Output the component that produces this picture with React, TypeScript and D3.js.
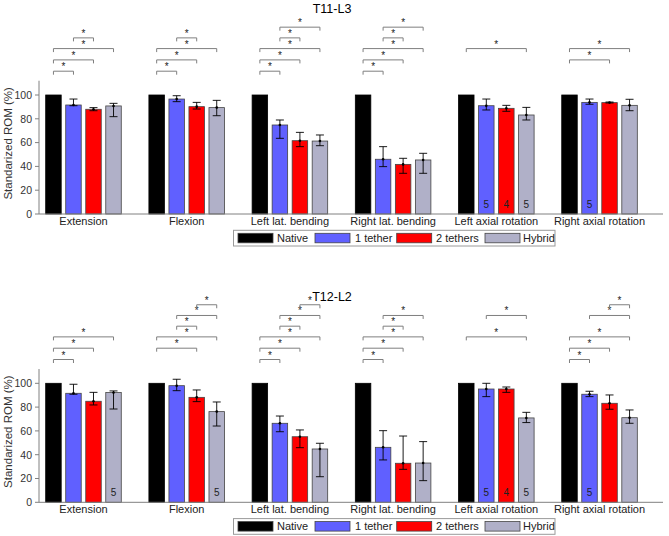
import React from "react";
import * as d3 from "d3";

const categories = ["Extension", "Flexion", "Left lat. bending", "Right lat. bending", "Left axial rotation", "Right axial rotation"];
const seriesNames = ["Native", "1 tether", "2 tethers", "Hybrid"];
const seriesColors = ["#000000", "#6060ff", "#ff0000", "#b0b0c8"];
const yTicks = [0, 20, 40, 60, 80, 100];

// T11-L3
const t11Native = [100, 100, 100, 100, 100, 100];
const t11Tether1 = [91.6, 96.6, 74.8, 46.0, 91.0, 93.8];
const t11Tether1Hi = [96.6, 99.4, 79.0, 56.6, 96.6, 96.6];
const t11Tether1Lo = [91.0, 94.4, 63.6, 39.8, 87.4, 92.2];
const t11Tether2 = [88.0, 90.2, 61.6, 41.7, 88.8, 93.6];
const t11Tether2Hi = [89.4, 93.8, 68.6, 46.8, 91.3, 94.1];
const t11Tether2Lo = [86.8, 88.2, 56.6, 34.2, 86.3, 93.3];
const t11Hybrid = [90.8, 89.4, 61.3, 45.4, 83.2, 91.3];
const t11HybridHi = [93.0, 95.5, 66.4, 51.0, 89.6, 96.4];
const t11HybridLo = [81.8, 82.6, 57.4, 34.2, 79.0, 86.8];
const t11Brackets = [
  ["N1", "N2", "NH", "12"],
  ["N1", "N2", "NH", "12"],
  ["N1", "N2", "NH", "12", "1H"],
  ["N1", "N2", "NH", "12", "1H"],
  ["NH"],
  ["N2", "NH"],
];
const t11Counts = [
  { cat: 4, s: 1, label: "5" },
  { cat: 4, s: 2, label: "4" },
  { cat: 4, s: 3, label: "5" },
  { cat: 5, s: 1, label: "5" },
];

// T12-L2
const t12Native = [100, 100, 100, 100, 100, 100];
const t12Tether1 = [91.6, 98.0, 66.4, 46.2, 95.2, 90.8];
const t12Tether1Hi = [99.2, 103.4, 72.5, 60.2, 100.0, 93.3];
const t12Tether1Lo = [90.8, 93.8, 59.3, 35.6, 88.8, 88.8];
const t12Tether2 = [84.9, 88.2, 55.1, 32.8, 95.2, 83.2];
const t12Tether2Hi = [92.4, 94.4, 60.8, 55.7, 96.9, 90.2];
const t12Tether2Lo = [81.8, 84.6, 45.9, 27.7, 92.4, 78.2];
const t12Hybrid = [92.2, 76.2, 44.8, 33.0, 70.9, 71.1];
const t12HybridHi = [93.6, 84.3, 49.6, 51.0, 75.6, 77.6];
const t12HybridLo = [78.4, 64.1, 21.5, 18.2, 67.0, 66.4];
const t12Brackets = [
  ["N1", "N2", "NH"],
  ["N2", "NH", "12", "1H", "2H"],
  ["N1", "N2", "NH", "12", "1H", "2H"],
  ["N1", "N2", "NH", "12", "1H"],
  ["NH", "1H"],
  ["N1", "N2", "NH", "1H", "2H"],
];
const t12Counts = [
  { cat: 0, s: 3, label: "5" },
  { cat: 1, s: 3, label: "5" },
  { cat: 4, s: 1, label: "5" },
  { cat: 4, s: 2, label: "4" },
  { cat: 4, s: 3, label: "5" },
  { cat: 5, s: 1, label: "5" },
];

const pairLevel: Record<string, number> = { N1: 120, N2: 129.5, NH: 139, "12": 148, "1H": 157, "2H": 166 };
const pairIdx: Record<string, [number, number]> = {
  N1: [0, 1], N2: [0, 2], NH: [0, 3], "12": [1, 2], "1H": [1, 3], "2H": [2, 3],
};

const FONT = "'Liberation Sans', Arial, Helvetica, sans-serif";

type PanelProps = {
  title: string;
  zeroY: number;
  means: number[][];
  his: (number[] | null)[];
  los: (number[] | null)[];
  brackets: string[][];
  counts: { cat: number; s: number; label: string }[];
};

const x = d3.scaleLinear().domain([0.569, 6.615]).range([39, 663]);
const pitch = x(1.194) - x(1);
const barW = 15.5;

function Panel({ title, zeroY, means, his, los, brackets, counts }: PanelProps) {
  const y = d3.scaleLinear().domain([0, 112]).range([zeroY, zeroY - 112 * 1.19]);
  const bx = (c: number, s: number) => x(c + 1) + (s - 1.5) * pitch;
  const plotMid = (y(0) + y(112)) / 2;
  return (
    <g>
      <text x={332} y={zeroY - 201.5} textAnchor="middle" fontSize={12.5} fill="#000" fontFamily={FONT}>{title}</text>
      <text transform={`translate(12,${plotMid - 4}) rotate(-90)`} textAnchor="middle" fontSize={11.5} fill="#333" fontFamily={FONT}>Standarized ROM (%)</text>
      {/* bars */}
      {categories.map((_, c) =>
        seriesNames.map((_, s) => {
          const v = means[s][c];
          const cx = bx(c, s);
          return (
            <rect key={`b${c}-${s}`} x={cx - barW / 2} y={y(v)} width={barW} height={y(0) - y(v)}
              fill={seriesColors[s]} stroke={s === 0 ? "#000" : "#444"} strokeWidth={0.8} />
          );
        })
      )}
      {/* error bars */}
      {categories.map((_, c) =>
        seriesNames.map((_, s) => {
          const hi = his[s];
          const lo = los[s];
          if (!hi || !lo) return null;
          const cx = bx(c, s);
          return (
            <g key={`e${c}-${s}`} stroke="#000" strokeWidth={0.9}>
              <line x1={cx} x2={cx} y1={y(hi[c])} y2={y(lo[c])} />
              <line x1={cx - 4} x2={cx + 4} y1={y(hi[c])} y2={y(hi[c])} />
              <line x1={cx - 4} x2={cx + 4} y1={y(lo[c])} y2={y(lo[c])} />
              <circle cx={cx} cy={y(means[s][c])} r={1.3} fill="#000" stroke="none" />
            </g>
          );
        })
      )}
      {/* counts */}
      {counts.map((d, i) => (
        <text key={`n${i}`} x={bx(d.cat, d.s)} y={y(0) - 6} textAnchor="middle" fontSize={10} fill="#222" fontFamily={FONT}>{d.label}</text>
      ))}
      {/* brackets */}
      {brackets.map((list, c) =>
        list.map((p) => {
          const [a, b] = pairIdx[p];
          const x1 = bx(c, a);
          const x2 = bx(c, b);
          const yy = y(pairLevel[p]);
          return (
            <g key={`k${c}-${p}`}>
              <path d={`M${x1},${yy + 3.5}V${yy}H${x2}V${yy + 3.5}`} fill="none" stroke="#7f7f7f" strokeWidth={1} />
              <text x={(x1 + x2) / 2} y={yy - 1} textAnchor="middle" fontSize={10} fill="#222" fontFamily={FONT}>*</text>
            </g>
          );
        })
      )}
      {/* axes */}
      <line x1={39} x2={39} y1={y(0)} y2={y(112)} stroke="#808080" strokeWidth={1} />
      <line x1={39} x2={663} y1={y(0)} y2={y(0)} stroke="#808080" strokeWidth={1} />
      {yTicks.map((t) => (
        <g key={`t${t}`}>
          <line x1={35} x2={39} y1={y(t)} y2={y(t)} stroke="#808080" strokeWidth={1} />
          <text x={32} y={y(t) + 3.8} textAnchor="end" fontSize={10.5} fill="#333" fontFamily={FONT}>{t}</text>
        </g>
      ))}
      {categories.map((cat, c) => (
        <text key={`c${c}`} x={x(c + 1)} y={y(0) + 10.5} textAnchor="middle" fontSize={11} fill="#222" fontFamily={FONT}>{cat}</text>
      ))}
      {/* legend */}
      <Legend top={zeroY + 16.3} />
    </g>
  );
}

function Legend({ top }: { top: number }) {
  const left = 233.5;
  const right = 555;
  const h = 15.7;
  const items = [
    { sx: 238, tx: 277 },
    { sx: 315, tx: 355 },
    { sx: 396.7, tx: 436 },
    { sx: 485, tx: 523 },
  ];
  return (
    <g>
      <rect x={left} y={top} width={right - left} height={h} fill="#fff" stroke="#9a9a9a" strokeWidth={1} />
      {items.map((it, i) => (
        <g key={i}>
          <rect x={it.sx} y={top + 3} width={35} height={9.5} fill={seriesColors[i]} stroke="#444" strokeWidth={0.8} />
          <text x={it.tx} y={top + 11.8} fontSize={11} fill="#222" fontFamily={FONT}>{seriesNames[i]}</text>
        </g>
      ))}
    </g>
  );
}

export default function App() {
  return (
    <svg width={669} height={536} style={{ position: "absolute", left: 0, top: 0, background: "#fff" }}>
      <rect x={0} y={0} width={669} height={536} fill="#fff" />
      <Panel
        title="T11-L3"
        zeroY={214}
        means={[t11Native, t11Tether1, t11Tether2, t11Hybrid]}
        his={[null, t11Tether1Hi, t11Tether2Hi, t11HybridHi]}
        los={[null, t11Tether1Lo, t11Tether2Lo, t11HybridLo]}
        brackets={t11Brackets}
        counts={t11Counts}
      />
      <Panel
        title="T12-L2"
        zeroY={502.3}
        means={[t12Native, t12Tether1, t12Tether2, t12Hybrid]}
        his={[null, t12Tether1Hi, t12Tether2Hi, t12HybridHi]}
        los={[null, t12Tether1Lo, t12Tether2Lo, t12HybridLo]}
        brackets={t12Brackets}
        counts={t12Counts}
      />
    </svg>
  );
}
